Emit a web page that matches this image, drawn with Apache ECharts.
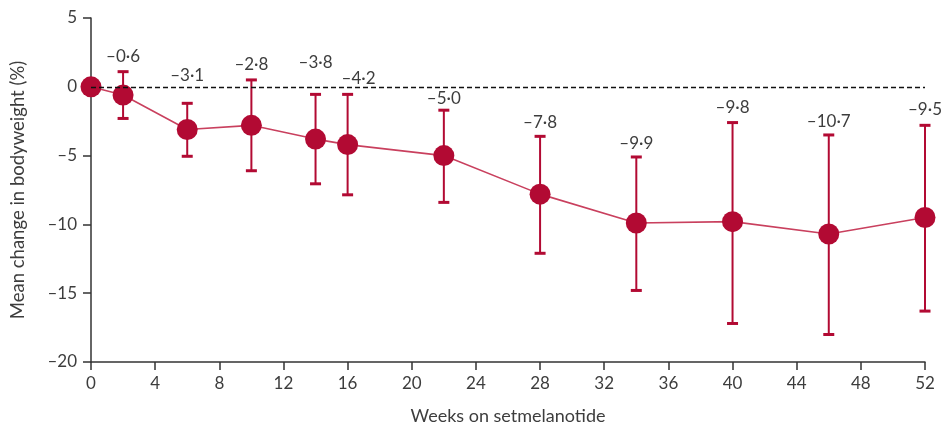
<!DOCTYPE html>
<html>
<head>
<meta charset="utf-8">
<script src="https://cdn.jsdelivr.net/npm/echarts@6/dist/echarts.min.js"></script>
<style>
  html, body { margin: 0; padding: 0; background: #fff; }
  #chart { width: 946px; height: 428px; }
</style>
</head>
<body>
<div id="chart"></div>
<script>
// Weeks on setmelanotide and mean % change in body weight
const weeks = [0, 2, 6, 10, 14, 16, 22, 28, 34, 40, 46, 52];
const meanChange = [0, -0.6, -3.1, -2.8, -3.8, -4.2, -5.0, -7.8, -9.9, -9.8, -10.7, -9.5];
// Upper and lower ends of the error bars (none at baseline)
const errUpper = [null, 1.1, -1.2, 0.5, -0.55, -0.55, -1.7, -3.6, -5.1, -2.6, -3.5, -2.8];
const errLower = [null, -2.3, -5.05, -6.1, -7.05, -7.85, -8.4, -12.1, -14.8, -17.2, -18.0, -16.3];
// Axis tick labels
const xTicks = [0, 4, 8, 12, 16, 20, 24, 28, 32, 36, 40, 44, 48, 52];
const yTicks = [5, 0, -5, -10, -15, -20];

// Label placement tweaks (pixels): [dx, extra lift above the bar top]
const labelShift = [[0, 0], [0, 0], [0, 12], [0, 0], [0, 16], [11, 0], [0, -4], [0, -2], [0, -2], [0, 0], [0, -2], [0, 0]];

const RED = '#b20a33';
const TEXT = '#3d3d3d';
const FONT = 'Lato';

const fmt = v => (v < 0 ? '\u2013' : '') + Math.abs(v).toFixed(1).replace('.', '\u00b7');
const fmtTick = v => (v < 0 ? '\u2013' : '') + Math.abs(v);

const errData = weeks.map((w, i) => [w, errUpper[i], errLower[i], meanChange[i], i])
  .filter(d => d[1] !== null);

const chart = echarts.init(document.getElementById('chart'), null, { renderer: 'canvas' });

chart.setOption({
  animation: false,
  backgroundColor: '#fff',
  grid: { left: 91, right: 21, top: 18, bottom: 66, outerBoundsMode: 'none', containLabel: false },
  xAxis: {
    type: 'value',
    min: 0, max: 52, interval: 4,
    name: 'Weeks on setmelanotide',
    nameLocation: 'middle',
    nameGap: 45,
    nameTextStyle: { color: TEXT, fontFamily: FONT, fontSize: 18 },
    axisLine: { onZero: false, lineStyle: { color: '#333', width: 1.5 } },
    axisTick: { length: 8, lineStyle: { color: '#333', width: 1.5 } },
    axisLabel: {
      color: TEXT, fontFamily: FONT, fontSize: 17, margin: 13,
      customValues: xTicks, formatter: fmtTick
    },
    splitLine: { show: false }
  },
  yAxis: {
    type: 'value',
    min: -20, max: 5, interval: 5,
    name: 'Mean change in bodyweight (%)',
    nameLocation: 'middle',
    nameGap: 63,
    nameTextStyle: { color: TEXT, fontFamily: FONT, fontSize: 18.5 },
    axisLine: { show: true, lineStyle: { color: '#333', width: 1.5 } },
    axisTick: { show: true, length: 8, lineStyle: { color: '#333', width: 1.5 } },
    axisLabel: {
      color: TEXT, fontFamily: FONT, fontSize: 17, margin: 14,
      customValues: yTicks, formatter: fmtTick
    },
    splitLine: { show: false }
  },
  series: [
    {
      // dashed reference line at zero change
      type: 'line',
      data: [],
      silent: true,
      z: 1,
      markLine: {
        symbol: 'none',
        silent: true,
        label: { show: false },
        lineStyle: { color: '#111', type: [5, 3], width: 1.3 },
        data: [{ yAxis: 0 }]
      }
    },
    {
      // error bars with caps and value labels above
      type: 'custom',
      z: 3,
      data: errData,
      renderItem: (params, api) => {
        const x = api.coord([api.value(0), 0])[0];
        const yTop = api.coord([0, api.value(1)])[1];
        const yBot = api.coord([0, api.value(2)])[1];
        const i = api.value(4);
        const cap = 5.5;
        const style = { stroke: RED, lineWidth: 2 };
        const sh = labelShift[i];
        return {
          type: 'group',
          children: [
            { type: 'line', shape: { x1: x, y1: yTop, x2: x, y2: yBot }, style },
            { type: 'line', shape: { x1: x - cap, y1: yTop, x2: x + cap, y2: yTop }, style: { stroke: RED, lineWidth: 3 } },
            { type: 'line', shape: { x1: x - cap, y1: yBot, x2: x + cap, y2: yBot }, style: { stroke: RED, lineWidth: 3 } },
            {
              type: 'text',
              style: {
                text: fmt(api.value(3)),
                x: x + sh[0],
                y: yTop - 7 - sh[1],
                textAlign: 'center',
                textVerticalAlign: 'bottom',
                fill: TEXT,
                font: '17px ' + FONT
              }
            }
          ]
        };
      }
    },
    {
      // mean trajectory
      type: 'line',
      z: 4,
      data: weeks.map((w, i) => [w, meanChange[i]]),
      symbol: 'circle',
      symbolSize: 21,
      lineStyle: { color: '#c9405e', width: 1.6 },
      itemStyle: { color: RED, borderWidth: 0 },
      label: { show: false }
    }
  ]
});
</script>
</body>
</html>
